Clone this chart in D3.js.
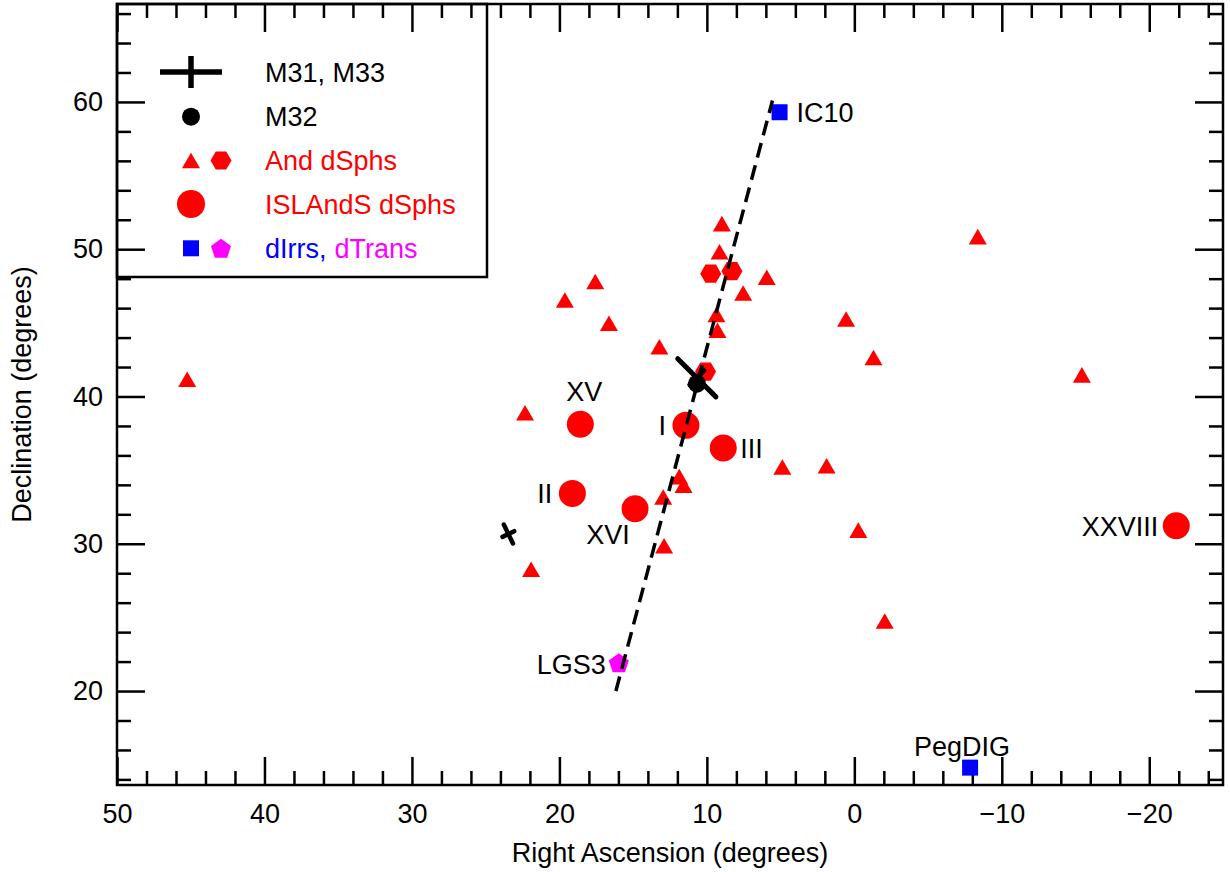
<!DOCTYPE html>
<html><head><meta charset="utf-8">
<script src="https://cdn.jsdelivr.net/npm/d3@7"></script>
<style>
body{margin:0;background:#fff}
text{font-family:"Liberation Sans",Arial,Helvetica,sans-serif}
</style>
</head><body>
<svg id="c" width="1230" height="872"></svg>
<script>
// ---------------- data ----------------
const andNames = ["XXXIII","XXIII","XXII","XXIV","V","X","IX","XIII","XII","XI","XIV","XXXII","XXX","XXVII","XVII","XXV","XXVI","XIX","XX","XVIII","XXIX","XXI","VI","VII","XXXI"];
const andRA  = [45.24,22.33,21.92,19.63,17.57,16.64,13.22,12.96,11.87,11.58,12.90,8.98,9.14,9.35,9.28,7.54,5.94,4.88,1.88,0.56,-0.27,-1.30,-2.06,-8.37,-15.43];
const andDec = [40.99,38.72,28.09,46.37,47.63,44.80,43.20,33.00,34.38,33.80,29.69,51.56,49.65,45.39,44.32,46.85,47.92,35.04,35.12,45.09,30.75,42.47,24.58,50.68,41.29];
const hexNames = ["NGC 185","NGC 147","NGC 205"];
const hexRA  = [9.74, 8.30, 10.09];
const hexDec = [48.34, 48.51, 41.69];
const islNames = ["XV","I","III","II","XVI","XXVIII"];
const islRA  = [18.58, 11.42, 8.89, 19.12, 14.87, -21.83];
const islDec = [38.12, 38.04, 36.50, 33.42, 32.38, 31.22];
const dirrNames = ["IC10","PegDIG"];
const dirrRA  = [5.07, -7.85];
const dirrDec = [59.30, 14.80];
const dtransNames = ["LGS3"];
const dtransRA  = [15.97];
const dtransDec = [21.92];
const spiralNames = ["M31","M33"];
const spiralRA  = [10.68, 23.46];
const spiralDec = [41.27, 30.66];
const spiralPA  = [45, 26];
const m32RA  = [10.67];
const m32Dec = [40.87];
const lineRA  = [16.17, 5.55];
const lineDec = [20.0, 60.1];
const xMajor = [50,40,30,20,10,0,-10,-20];
const yMajor = [20,30,40,50,60];
const legendLabels = ["M31, M33","M32","And dSphs","ISLAndS dSphs","dIrrs,","dTrans"];

// ---------------- layout ----------------
const W = 1230, H = 872;
const L = 117, R = 1223, T = 4, B = 785;
const FS = 27;
const RED = "#ff0000", BLUE = "#0000ff", MAG = "#ff00ff";

const svg = d3.select("#c");
svg.append("rect").attr("width",W).attr("height",H).attr("fill","#fff");

const x = d3.scaleLinear().domain([50,-25]).range([L,R]);
const y = d3.scaleLinear().domain([13.62,66.65]).range([B,T]);

// legend box
svg.append("rect").attr("x",L).attr("y",T).attr("width",487-L).attr("height",277-T)
  .attr("fill","#fff").attr("stroke","#000").attr("stroke-width",2.5);

// axes with inward ticks
function range2(a,b){const r=[];for(let v=a;v<=b+1e-9;v+=2)r.push(v);return r;}
const xMinor = range2(-24,48).filter(v=>v%10!==0);
const yMinor = range2(14,66).filter(v=>v%10!==0);

function styleAxis(g){
  g.select(".domain").remove();
  g.selectAll(".tick line").attr("stroke","#000").attr("stroke-width",2.5);
  g.selectAll("text").attr("font-size",FS).attr("fill","#000")
    .attr("font-family",'"Liberation Sans",Arial,sans-serif');
}
const fmt = d3.format("d");
svg.append("g").attr("transform",`translate(0,${B})`)
  .call(d3.axisBottom(x).tickValues(xMajor).tickFormat(fmt).tickSizeInner(-28).tickSizeOuter(0).tickPadding(19)).call(styleAxis);
svg.append("g").attr("transform",`translate(0,${B})`)
  .call(d3.axisBottom(x).tickValues(xMinor).tickFormat("").tickSizeInner(-14).tickSizeOuter(0)).call(styleAxis);
svg.append("g").attr("transform",`translate(0,${T})`)
  .call(d3.axisTop(x).tickValues(xMajor).tickFormat("").tickSizeInner(-28).tickSizeOuter(0)).call(styleAxis);
svg.append("g").attr("transform",`translate(0,${T})`)
  .call(d3.axisTop(x).tickValues(xMinor).tickFormat("").tickSizeInner(-14).tickSizeOuter(0)).call(styleAxis);
svg.append("g").attr("transform",`translate(${L},0)`)
  .call(d3.axisLeft(y).tickValues(yMajor).tickFormat(fmt).tickSizeInner(-28).tickSizeOuter(0).tickPadding(14)).call(styleAxis);
svg.append("g").attr("transform",`translate(${L},0)`)
  .call(d3.axisLeft(y).tickValues(yMinor).tickFormat("").tickSizeInner(-14).tickSizeOuter(0)).call(styleAxis);
svg.append("g").attr("transform",`translate(${R},0)`)
  .call(d3.axisRight(y).tickValues(yMajor).tickFormat("").tickSizeInner(-28).tickSizeOuter(0)).call(styleAxis);
svg.append("g").attr("transform",`translate(${R},0)`)
  .call(d3.axisRight(y).tickValues(yMinor).tickFormat("").tickSizeInner(-14).tickSizeOuter(0)).call(styleAxis);

// frame
svg.append("rect").attr("x",L).attr("y",T).attr("width",R-L).attr("height",B-T)
  .attr("fill","none").attr("stroke","#000").attr("stroke-width",2.5);

// axis titles
svg.append("text").attr("x",(L+R)/2).attr("y",862).attr("text-anchor","middle")
  .attr("font-size",FS).text("Right Ascension (degrees)");
svg.append("text").attr("transform",`translate(31,${(T+B)/2}) rotate(-90)`).attr("text-anchor","middle")
  .attr("font-size",FS).text("Declination (degrees)");

// symbol paths
function triPath(s){const h=s*Math.sqrt(3)/2;return `M0,${-2*h/3}L${s/2},${h/3}L${-s/2},${h/3}Z`;}
function hexPath(r){let p="";for(let i=0;i<6;i++){const a=i*Math.PI/3;p+=(i?"L":"M")+(r*Math.cos(a))+","+(r*Math.sin(a));}return p+"Z";}
function pentPath(r){let p="";for(let i=0;i<5;i++){const a=-Math.PI/2+i*2*Math.PI/5;p+=(i?"L":"M")+(r*Math.cos(a))+","+(r*Math.sin(a));}return p+"Z";}

const plot = svg.append("g");

// And dSphs triangles
plot.selectAll(".tri").data(andRA.map((d,i)=>({ra:d,dec:andDec[i],n:andNames[i]}))).enter()
  .append("path").attr("d",triPath(18)).attr("fill",RED)
  .attr("transform",d=>`translate(${x(d.ra)},${y(d.dec)})`);
// hexagons
plot.selectAll(".hex").data(hexRA.map((d,i)=>({ra:d,dec:hexDec[i]}))).enter()
  .append("path").attr("d",hexPath(10.5)).attr("fill",RED)
  .attr("transform",d=>`translate(${x(d.ra)},${y(d.dec)})`);
// ISLAndS circles
plot.selectAll(".isl").data(islRA.map((d,i)=>({ra:d,dec:islDec[i]}))).enter()
  .append("circle").attr("r",13.5).attr("fill",RED)
  .attr("cx",d=>x(d.ra)).attr("cy",d=>y(d.dec));
// dIrrs squares
plot.selectAll(".dirr").data(dirrRA.map((d,i)=>({ra:d,dec:dirrDec[i]}))).enter()
  .append("rect").attr("width",16).attr("height",16).attr("fill",BLUE)
  .attr("x",d=>x(d.ra)-8).attr("y",d=>y(d.dec)-8);
// dTrans pentagon
plot.selectAll(".dtr").data(dtransRA.map((d,i)=>({ra:d,dec:dtransDec[i]}))).enter()
  .append("path").attr("d",pentPath(10.5)).attr("fill",MAG)
  .attr("transform",d=>`translate(${x(d.ra)},${y(d.dec)+1})`);

// spiral crosses
const armMaj = [27,10.5], armMin = [10,6.5], armW=[5,4.5];
spiralRA.forEach((ra,i)=>{
  const cx=x(ra), cy=y(spiralDec[i]), t=spiralPA[i]*Math.PI/180;
  const ux=-Math.sin(t), uy=-Math.cos(t), vx=Math.cos(t), vy=-Math.sin(t);
  const g=plot.append("g").attr("stroke","#000").attr("stroke-width",armW[i]).attr("stroke-linecap","round");
  g.append("line").attr("x1",cx-ux*armMaj[i]).attr("y1",cy-uy*armMaj[i]).attr("x2",cx+ux*armMaj[i]).attr("y2",cy+uy*armMaj[i]);
  g.append("line").attr("x1",cx-vx*armMin[i]).attr("y1",cy-vy*armMin[i]).attr("x2",cx+vx*armMin[i]).attr("y2",cy+vy*armMin[i]);
});
// M32
plot.append("circle").attr("cx",x(m32RA[0])).attr("cy",y(m32Dec[0])).attr("r",9).attr("fill","#000");

// dashed line
plot.append("line").attr("x1",x(lineRA[0])).attr("y1",y(lineDec[0])).attr("x2",x(lineRA[1])).attr("y2",y(lineDec[1]))
  .attr("stroke","#000").attr("stroke-width",3.5).attr("stroke-dasharray","15,8");

// labels
const labOff = {
  "XV":[4,-23,"middle"], "I":[-20,10,"end"], "III":[17,10,"start"], "II":[-20,10,"end"],
  "XVI":[-27,35,"middle"], "XXVIII":[-18,10,"end"], "LGS3":[-13,11,"end"],
  "IC10":[17,10,"start"], "PegDIG":[-8,-12,"middle"]
};
const labs = [];
islNames.forEach((n,i)=>labs.push({n,ra:islRA[i],dec:islDec[i]}));
dirrNames.forEach((n,i)=>labs.push({n,ra:dirrRA[i],dec:dirrDec[i]}));
dtransNames.forEach((n,i)=>labs.push({n,ra:dtransRA[i],dec:dtransDec[i]}));
plot.selectAll(".lab").data(labs).enter().append("text")
  .attr("x",d=>x(d.ra)+labOff[d.n][0]).attr("y",d=>y(d.dec)+labOff[d.n][1])
  .attr("text-anchor",d=>labOff[d.n][2]).attr("font-size",FS).attr("fill","#000").text(d=>d.n);

// legend
const lg = svg.append("g");
const rowY = [72,116.7,160.5,204,248.3];
const tx = 265;
lg.append("line").attr("x1",160).attr("x2",222).attr("y1",rowY[0]).attr("y2",rowY[0]).attr("stroke","#000").attr("stroke-width",5.5);
lg.append("line").attr("x1",191).attr("x2",191).attr("y1",rowY[0]-16).attr("y2",rowY[0]+16).attr("stroke","#000").attr("stroke-width",5.5);
lg.append("circle").attr("cx",191).attr("cy",rowY[1]).attr("r",9).attr("fill","#000");
lg.append("path").attr("d",triPath(18)).attr("fill",RED).attr("transform",`translate(191,${rowY[2]+2.6})`);
lg.append("path").attr("d",hexPath(10.5)).attr("fill",RED).attr("transform",`translate(221,${rowY[2]})`);
lg.append("circle").attr("cx",191).attr("cy",rowY[3]).attr("r",14).attr("fill",RED);
lg.append("rect").attr("x",183).attr("y",rowY[4]-8).attr("width",16).attr("height",16).attr("fill",BLUE);
lg.append("path").attr("d",pentPath(10.5)).attr("fill",MAG).attr("transform",`translate(221,${rowY[4]+1})`);
const lcol = ["#000","#000",RED,RED];
legendLabels.slice(0,4).forEach((t,i)=>{
  lg.append("text").attr("x",tx).attr("y",rowY[i]+9.5).attr("font-size",FS).attr("fill",lcol[i]).text(t);
});
const lt = lg.append("text").attr("x",tx).attr("y",rowY[4]+9.5).attr("font-size",FS);
lt.append("tspan").attr("fill",BLUE).text(legendLabels[4]);
lt.append("tspan").attr("fill",MAG).attr("dx",8).text(legendLabels[5]);
</script>
</body></html>
